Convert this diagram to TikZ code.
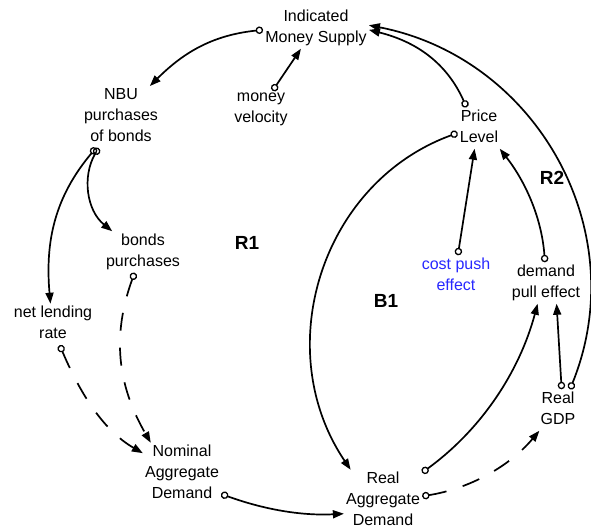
\documentclass[tikz,border=0pt]{standalone}
\usepackage{fontspec}
\setmainfont{Liberation Sans}
\usetikzlibrary{arrows.meta}
\definecolor{effectblue}{RGB}{40,40,255}
% fixed-height line struts: 21pt per line, text set slightly low in the box
\newcommand{\topstrut}{\vrule height 16.5pt depth 0pt width 0pt}
\newcommand{\botstrut}{\vrule height 0pt depth 4.5pt width 0pt}
\begin{document}
\begin{tikzpicture}[x=1pt,y=-1pt,
  var/.style={align=center, inner sep=2pt,
    font=\fontsize{16}{21}\selectfont,
    execute at begin node=\topstrut, execute at end node=\botstrut},
  looplabel/.style={font=\fontsize{19}{22}\selectfont\bfseries, inner sep=0pt},
  link/.style={line width=1.7pt,
    {Circle[open,length=7.5pt,line width=1.3pt]}-{Triangle[length=11pt,width=8pt]}},
  delay/.style={link, dash pattern=on 18pt off 17pt}]

\fill[white] (0,0) rectangle (591,532);
\useasboundingbox (0,0) rectangle (591,532);

% variables
\node[var] (ims) at (316,28)    {Indicated\\Money Supply};
\node[var] (mv)  at (261,110)   {money\\velocity};
\node[var] (nbu) at (121,117)   {NBU\\purchases\\of bonds};
\node[var] (bp)  at (143,252)   {bonds\\purchases};
\node[var] (nlr) at (53,324.5)  {net lending\\rate};
\node[var] (nad) at (182,474)   {Nominal\\Aggregate\\Demand};
\node[var] (rad) at (383,501)   {Real\\Aggregate\\Demand};
\node[var] (gdp) at (558,410)   {Real\\GDP};
\node[var] (dpe) at (546,283)   {demand\\pull effect};
\node[var, text=effectblue] (cpe) at (456,276) {cost push\\effect};
\node[var] (pl)  at (479,128)   {Price\\Level};

% loop labels
\node[looplabel] (r1) at (247,243) {R1};
\node[looplabel] (r2) at (552,178) {R2};
\node[looplabel] (b1) at (386,301) {B1};

% causal links
\draw[link] (ims.182) to[out=186, in=45] (nbu.47);
\draw[link] (mv.59) -- (ims.234);
\draw[link] (pl.121) to[out=114, in=346] (ims.358);
\draw[link] (gdp.60) to[out=68, in=349, looseness=1.05] (ims.3);
\draw[link] (pl.193) to[out=200, in=124, looseness=1.05] (rad.136);
\draw[link] (cpe.85) -- (pl.258);
\draw[link] (dpe.93) to[out=94, in=308, looseness=0.9] (pl.315);
\draw[link] (gdp.80) -- (dpe.297);
\draw[link] (rad.36) to[out=36, in=255, looseness=0.9] (dpe.248);
\draw[delay] (rad.7) to[out=9, in=230, looseness=0.9] (gdp.228);
\draw[link] (nad.333) to[out=340, in=183, looseness=0.9] (rad.198);
\draw[link] (nbu.234) to[out=240, in=141] (bp.146);
\draw[link] (nbu.231) to[out=230, in=95] (nlr.97);
\draw[delay] (bp.248) to[out=250, in=120] (nad.135);
\draw[delay] (nlr.288) to[out=293, in=150, looseness=0.9] (nad.152);
\end{tikzpicture}
\end{document}
